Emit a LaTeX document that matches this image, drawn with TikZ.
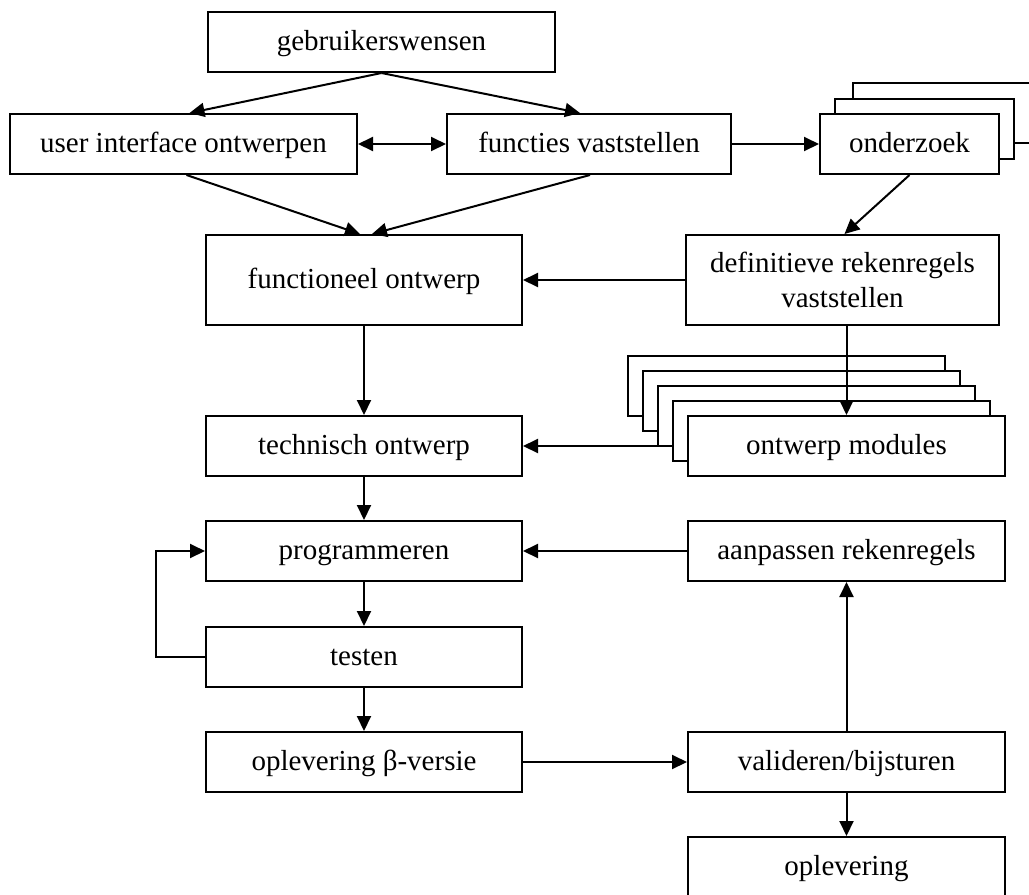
\documentclass[tikz,border=0pt]{standalone}
\usepackage{fontspec}
\setmainfont{Liberation Serif}
\usetikzlibrary{arrows.meta,calc,backgrounds}
\tikzset{
  boxbase/.style={draw, line width=2pt, fill=white, minimum height=60pt, inner sep=0pt, font=\fontsize{29}{35}\selectfont},
  box/.style={boxbase, text height=20pt, text depth=3pt},
  arr/.style={line width=2pt, -{Triangle[length=15pt,width=14pt]}},
  dbl/.style={line width=2pt, {Triangle[length=15pt,width=14pt]}-{Triangle[length=15pt,width=14pt]}},
}
\begin{document}
\begin{tikzpicture}[x=1pt,y=-1pt]
\useasboundingbox (0,0) rectangle (1029,895);
% top row
\node[box, minimum width=347pt] (geb) at (381.5,42) {gebruikerswensen};
\node[box, minimum width=347pt] (ui) at (183.5,144) {user interface ontwerpen};
\node[box, minimum width=284pt] (fv) at (589,144) {functies vaststellen};
\node[box, minimum width=179pt] (ond3) at (942,113) {};
\node[box, minimum width=179pt] (ond2) at (924.5,129) {};
\node[box, minimum width=179pt] (ond) at (909.5,144) {onderzoek};
% second row
\node[box, minimum width=316pt, minimum height=90pt] (fo) at (364,280) {functioneel ontwerp};
\node[boxbase, minimum width=313pt, minimum height=90pt, align=center] (def) at (842.5,280) {definitieve rekenregels\\vaststellen};
% modules stack
\node[box, minimum width=317pt] (om1) at (786.5,386) {};
\node[box, minimum width=317pt] (om2) at (801.5,401) {};
\node[box, minimum width=317pt] (om3) at (816.5,416) {};
\node[box, minimum width=317pt] (om4) at (831.5,431) {};
\node[box, minimum width=317pt] (om) at (846.5,446) {ontwerp modules};
\node[box, minimum width=316pt] (to) at (364,446) {technisch ontwerp};
% lower rows
\node[box, minimum width=316pt] (prog) at (364,551) {programmeren};
\node[box, minimum width=317pt] (aan) at (846.5,551) {aanpassen rekenregels};
\node[box, minimum width=316pt] (test) at (364,657) {testen};
\node[box, minimum width=316pt] (beta) at (364,762) {oplevering β-versie};
\node[box, minimum width=317pt] (val) at (846.5,762) {valideren/bijsturen};
\node[box, minimum width=317pt] (opl) at (846.5,867) {oplevering};
% connectors
\draw[arr] (geb.south) -- ($(ui.north)+(6,0)$);
\draw[arr] (geb.south) -- ($(fv.north)+(-9,0)$);
\draw[dbl] (ui) -- (fv);
\draw[arr] (fv) -- (ond);
\draw[arr] ($(ui.south)+(3,0)$) -- ($(fo.north)+(-4,0)$);
\draw[arr] ($(fv.south)+(1,0)$) -- ($(fo.north)+(8,0)$);
\draw[arr] (ond.south) -- ($(def.north)+(2,0)$);
\draw[arr] (def) -- (fo);
\draw[arr] (fo) -- (to);
\draw[arr] (om.north |- def.south) -- (om.north);
\begin{scope}[on background layer]
\draw[arr] (om.west) -- (to.east);
\end{scope}
\draw[arr] (to) -- (prog);
\draw[arr] (aan) -- (prog);
\draw[arr] (prog) -- (test);
\draw[arr] (test.west) -- ++(-49,0) |- (prog.west);
\draw[arr] (test) -- (beta);
\draw[arr] (beta) -- (val);
\draw[arr] (val) -- (aan);
\draw[arr] (val) -- (opl);
\end{tikzpicture}
\end{document}
